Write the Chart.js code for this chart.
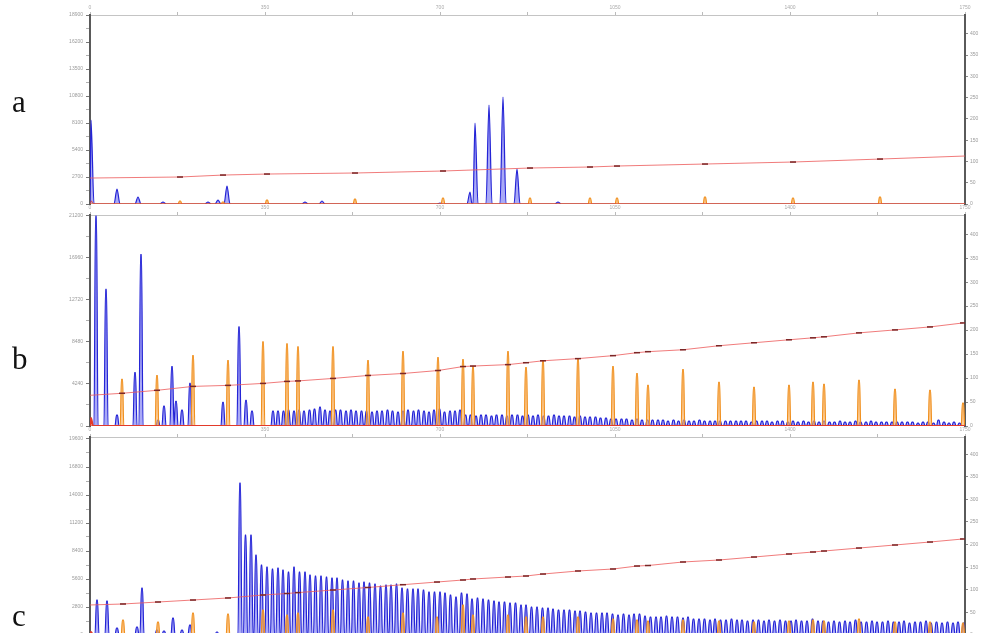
<!DOCTYPE html>
<html>
<head>
<meta charset="utf-8">
<script src="https://cdn.jsdelivr.net/npm/chart.js@4.4.0/dist/chart.umd.min.js"></script>
<style>
  html, body { margin: 0; padding: 0; background: #fff; overflow: hidden; }
  #wrap { position: relative; width: 989px; height: 633px; overflow: hidden; }
  canvas { position: absolute; left: 0; }
  .lbl { position: absolute; left: 12px; font-family: 'Liberation Serif', serif; font-size: 31px; line-height: 1; color: #111; }
</style>
</head>
<body>
<div id="wrap">
  <canvas id="panelA" width="989" height="210" style="top:0px"></canvas>
  <canvas id="panelB" width="989" height="232" style="top:200px"></canvas>
  <canvas id="panelC" width="989" height="220" style="top:422px"></canvas>
  <div class="lbl" style="top:86px">a</div>
  <div class="lbl" style="top:343px">b</div>
  <div class="lbl" style="top:600px">c</div>
</div>
<script>
// scan axis runs 0..1750, signal in RFU, size standard in bp (right axis)

// ---- panel a ----
const blueScanA = [2, 54, 96, 146, 236, 256, 274, 430, 464, 700, 760, 770, 798, 826, 854, 936];
const blueRfuA  = [8400, 1500, 700, 200, 200, 400, 1800, 200, 300, 100, 1200, 8100, 9900, 10700, 3500, 200];
const orangeScanA = [180, 266, 354, 530, 706, 880, 1000, 1054, 1230, 1406, 1580];
const orangeRfuA  = [300, 200, 400, 500, 600, 600, 600, 600, 700, 600, 700];
const redScanA = [3];
const redRfuA  = [300];
const sizeScanA = [0, 180, 266, 354, 530, 706, 880, 1000, 1054, 1230, 1406, 1580, 1750];
const sizeBpA   = [61, 63.4, 68, 70.4, 72.8, 77.5, 84.5, 86.9, 89.2, 93.9, 98.6, 105.6, 112.7];

// ---- panel b ----
const blueScanB = [12, 32, 54, 90, 102, 136, 148, 164, 172, 184, 200, 266, 298, 312, 324,
  366, 376, 387, 397, 408, 418, 428, 439, 449, 460,
  470, 480, 491, 501, 512, 522, 532, 543, 553, 564,
  574, 584, 595, 605, 616, 626, 636, 647, 657, 668,
  678, 688, 699, 709, 720, 730, 740, 751, 761, 772,
  782, 792, 803, 813, 824, 834, 844, 855, 865, 876,
  886, 896, 907, 917, 928, 938, 948, 959, 969, 980,
  990, 1000, 1011, 1021, 1032, 1042, 1052, 1063, 1073, 1084,
  1094, 1104, 1115, 1125, 1136, 1146, 1156, 1167, 1177, 1188,
  1198, 1208, 1219, 1229, 1240, 1250, 1260, 1271, 1281, 1292,
  1302, 1312, 1323, 1333, 1344, 1354, 1364, 1375, 1385, 1396,
  1406, 1416, 1427, 1437, 1448, 1458, 1468, 1479, 1489, 1500,
  1510, 1520, 1531, 1541, 1552, 1562, 1572, 1583, 1593, 1604,
  1614, 1624, 1635, 1645, 1656, 1666, 1676, 1687, 1697, 1708,
  1718, 1728, 1739];
const blueRfuB = [21200, 13800, 1100, 5400, 17300, 600, 2000, 6000, 2500, 1600, 4300, 2400, 10000, 2600, 1500,
  1500, 1500, 1500, 1600, 1500, 1600, 1500, 1600, 1700, 1900,
  1600, 1500, 1600, 1600, 1500, 1600, 1500, 1500, 1500, 1400,
  1500, 1500, 1600, 1500, 1400, 1500, 1600, 1500, 1600, 1500,
  1400, 1600, 1700, 1400, 1500, 1500, 1600, 1100, 1100, 1000,
  1100, 1100, 1000, 1100, 1100, 1000, 1100, 1100, 1000, 1100,
  1000, 1100, 1000, 1000, 1100, 1000, 1000, 1000, 900, 1000,
  900, 900, 900, 800, 800, 700, 700, 700, 700, 600,
  700, 600, 600, 600, 600, 600, 500, 600, 500, 600,
  500, 500, 600, 500, 500, 500, 500, 500, 500, 500,
  500, 500, 400, 500, 500, 500, 400, 500, 500, 400,
  500, 400, 500, 400, 500, 400, 500, 400, 400, 500,
  400, 400, 500, 400, 400, 500, 400, 400, 400, 400,
  400, 400, 400, 400, 300, 400, 400, 300, 600, 400,
  300, 400, 300];
const orangeScanB = [64, 134, 206, 276, 346, 394, 416, 486, 556, 626, 696, 746, 766, 836, 872,
  906, 976, 1046, 1094, 1116, 1186, 1258, 1328, 1398, 1446, 1468, 1538, 1610, 1680, 1746];
const orangeRfuB  = [4700, 5100, 7100, 6600, 8500, 8300, 8000, 8000, 6600, 7500, 6900, 6700, 6000, 7500, 5900,
  6600, 6800, 6000, 5300, 4100, 5700, 4400, 3900, 4100, 4400, 4200, 4600, 3700, 3600, 2300];
const redScanB = [2];
const redRfuB  = [800];
const sizeScanB = [0, 64, 134, 206, 276, 346, 394, 416, 486, 556, 626, 696, 746, 766, 836, 872,
  906, 976, 1046, 1094, 1116, 1186, 1258, 1328, 1398, 1446, 1468, 1538, 1610, 1680, 1746];
const sizeBpB   = [64, 68.2, 74.4, 82.6, 84.7, 88.8, 93, 94, 99.2, 105.4, 109.5, 115.7, 124, 125, 128, 132,
  136, 140.5, 146.7, 152.9, 155, 159, 167.4, 173.6, 179.8, 183.9, 186, 194.2, 200.4, 206.6, 214.9];

// ---- panel c ----
const blueScanC = [14, 34, 54, 94, 104, 134, 148, 166, 184, 200, 254,
  300, 311, 322, 332, 343, 354, 365, 376, 386, 397,
  408, 419, 430, 440, 451, 462, 473, 484, 494, 505,
  516, 527, 538, 548, 559, 570, 581, 592, 602, 613,
  624, 635, 646, 656, 667, 678, 689, 700, 710, 721,
  732, 743, 754, 764, 775, 786, 797, 808, 818, 829,
  840, 851, 862, 872, 883, 894, 905, 916, 926, 937,
  948, 959, 970, 980, 991, 1002, 1013, 1024, 1034, 1045,
  1056, 1067, 1078, 1088, 1099, 1110, 1121, 1132, 1142, 1153,
  1164, 1175, 1186, 1196, 1207, 1218, 1229, 1240, 1250, 1261,
  1272, 1283, 1294, 1304, 1315, 1326, 1337, 1348, 1358, 1369,
  1380, 1391, 1402, 1412, 1423, 1434, 1445, 1456, 1466, 1477,
  1488, 1499, 1510, 1520, 1531, 1542, 1553, 1564, 1574, 1585,
  1596, 1607, 1618, 1628, 1639, 1650, 1661, 1672, 1682, 1693,
  1704, 1715, 1726, 1736, 1747];
const blueRfuC = [3500, 3400, 700, 800, 4700, 500, 400, 1700, 500, 1000, 300,
  15200, 10000, 10000, 8000, 7000, 6800, 6600, 6700, 6500, 6300,
  6800, 6300, 6300, 6000, 5900, 5900, 5800, 5700, 5700, 5500,
  5400, 5400, 5200, 5300, 5200, 5100, 4900, 5000, 5000, 5100,
  4700, 4600, 4600, 4600, 4500, 4300, 4300, 4300, 4200, 4000,
  3800, 4200, 4100, 3600, 3700, 3600, 3500, 3400, 3300, 3300,
  3200, 3200, 3000, 3000, 2800, 2800, 2700, 2700, 2600, 2500,
  2500, 2500, 2400, 2400, 2300, 2200, 2200, 2200, 2200, 2100,
  2000, 2100, 2000, 2100, 2100, 1900, 1800, 1800, 1800, 1900,
  1800, 1800, 1700, 1800, 1600, 1600, 1600, 1500, 1600, 1500,
  1500, 1600, 1500, 1500, 1400, 1500, 1500, 1400, 1500, 1400,
  1500, 1400, 1400, 1500, 1400, 1400, 1600, 1400, 1400, 1300,
  1400, 1300, 1400, 1300, 1500, 1300, 1300, 1400, 1300, 1300,
  1400, 1300, 1300, 1400, 1200, 1300, 1300, 1400, 1200, 1300,
  1200, 1300, 1200, 1300, 1200];
const orangeScanC = [66, 136, 206, 276, 346, 394, 416, 486, 556, 626, 694, 746, 766, 836, 872,
  906, 976, 1046, 1094, 1116, 1186, 1258, 1328, 1398, 1446, 1468, 1538, 1610, 1680, 1746];
const orangeRfuC  = [1500, 1300, 2200, 2100, 2500, 2000, 2200, 2500, 1800, 2200, 1800, 3000, 2000, 2000, 1800,
  1800, 1800, 1600, 1500, 1400, 1500, 1400, 1300, 1400, 1500, 1400, 1600, 1300, 1300, 1200];
const redScanC = [2];
const redRfuC  = [300];
const sizeScanC = [0, 66, 136, 206, 276, 346, 394, 416, 486, 556, 626, 694, 746, 766, 836, 872,
  906, 976, 1046, 1094, 1116, 1186, 1258, 1328, 1398, 1446, 1468, 1538, 1610, 1680, 1746];
const sizeBpC   = [66.4, 68.6, 73, 77.4, 81.9, 88.5, 91.8, 93.8, 99.5, 105.1, 111.3, 117.2, 121.7, 123.9, 128.3, 130.5,
  134.9, 141.6, 146, 152.6, 153.7, 161.5, 165.9, 172.5, 179.2, 183.6, 185.8, 192.4, 199.1, 205.7, 212.4];

// turn a peak table into a trace: baseline, apex (optionally a short flat top), baseline
function peakTrace(scans, heights, halfWidth, topHalf) {
    const pts = [{x: 0, y: 0}, {x: 1750, y: 0}];
    scans.forEach((s, i) => {
        pts.push({x: s - halfWidth, y: 0}, {x: s + halfWidth, y: 0});
        if (topHalf > 0) {
            pts.push({x: s - topHalf, y: heights[i]}, {x: s + topHalf, y: heights[i]});
        } else {
            pts.push({x: s, y: heights[i]});
        }
    });
    return pts.sort((p, q) => p.x - q.x);
}

function isStep(v, step) {
    return Math.abs(v / step - Math.round(v / step)) < 1e-6;
}

// fixed tick list so that chart.js does not re-space the ticks
function tickList(max, step) {
    const ticks = [];
    for (let v = 0; v <= max + 1e-9; v += step) {
        ticks.push({value: v});
    }
    return ticks;
}

function drawPanel(id, p) {
    const ctx = document.getElementById(id).getContext('2d');
    const sizePts = p.sizeScan.map((s, i) => ({x: s, y: p.sizeBp[i]}));

    return new Chart(ctx, {
        type: 'line',
        data: {
            datasets: [
                {
                    label: 'Size standard (bp)',
                    data: sizePts,
                    yAxisID: 'y2',
                    borderColor: 'rgba(236, 90, 90, 0.8)',
                    borderWidth: 1,
                    pointStyle: 'line',
                    pointRadius: c => p.orangeScan.includes(p.sizeScan[c.dataIndex]) ? 3 : 0,
                    pointBorderColor: '#7a2626',
                    pointBorderWidth: 1.5,
                    fill: false
                },
                {
                    label: 'Red dye',
                    data: peakTrace(p.redScan, p.redRfu, 4, 0),
                    borderColor: '#e23a2a',
                    borderWidth: p.redWidth,
                    pointRadius: 0,
                    cubicInterpolationMode: 'monotone',
                    fill: false
                },
                {
                    label: 'Size ladder',
                    data: peakTrace(p.orangeScan, p.orangeRfu, 3.5, 1.2),
                    borderColor: '#f0901f',
                    backgroundColor: 'rgba(250, 175, 90, 0.65)',
                    borderWidth: 1.2,
                    pointRadius: 0,
                    cubicInterpolationMode: 'monotone',
                    fill: 'origin'
                },
                {
                    label: 'Sample',
                    data: peakTrace(p.blueScan, p.blueRfu, p.halfWidth, p.topHalf),
                    borderColor: '#2424d6',
                    backgroundColor: 'rgba(100, 100, 238, 0.55)',
                    borderWidth: 1.2,
                    pointRadius: 0,
                    cubicInterpolationMode: 'monotone',
                    fill: 'origin'
                }
            ]
        },
        options: {
            responsive: false,
            animation: false,
            events: [],
            layout: { padding: { top: 0, right: 0, left: 0, bottom: p.padBottom } },
            plugins: { legend: { display: false }, tooltip: { enabled: false } },
            scales: {
                x: {
                    type: 'linear',
                    position: 'top',
                    min: 0,
                    max: 1750,
                    afterFit: s => { s.height = 15; },
                    afterBuildTicks: s => { s.ticks = tickList(1750, 175); },
                    border: { color: '#c4c4c4', width: 1 },
                    grid: { drawOnChartArea: false, tickLength: 3, color: '#bbbbbb' },
                    ticks: {
                        autoSkip: false,
                        maxRotation: 0,
                        padding: 1,
                        color: '#aaaaaa',
                        font: { size: 5, family: 'Liberation Sans' },
                        callback: v => isStep(v, 350) ? String(v) : ''
                    }
                },
                y: {
                    position: 'left',
                    min: 0,
                    max: p.yMax,
                    afterFit: s => { s.width = 90; },
                    afterBuildTicks: s => { s.ticks = tickList(p.yMax, p.yStep / 2); },
                    border: { color: '#5a5a5a', width: 2 },
                    grid: {
                        drawOnChartArea: false,
                        tickLength: 4,
                        color: c => isStep(c.tick.value, p.yStep) ? '#777777' : '#b0b0b0'
                    },
                    ticks: {
                        autoSkip: false,
                        padding: 3,
                        color: '#9a9a9a',
                        font: { size: 5, family: 'Liberation Sans' },
                        callback: v => isStep(v, p.yStep) ? String(v) : ''
                    }
                },
                y2: {
                    position: 'right',
                    min: 0,
                    max: p.bpMax,
                    afterFit: s => { s.width = 24; },
                    afterBuildTicks: s => { s.ticks = tickList(p.bpMax, 50); },
                    border: { color: '#5a5a5a', width: 2 },
                    grid: { drawOnChartArea: false, tickLength: 3, color: '#888888' },
                    ticks: {
                        autoSkip: false,
                        padding: 2,
                        color: '#9a9a9a',
                        font: { size: 5, family: 'Liberation Sans' }
                    }
                }
            }
        }
    });
}

drawPanel('panelA', {
    blueScan: blueScanA, blueRfu: blueRfuA, orangeScan: orangeScanA, orangeRfu: orangeRfuA,
    redScan: redScanA, redRfu: redRfuA, sizeScan: sizeScanA, sizeBp: sizeBpA,
    yMax: 18900, yStep: 2700, bpMax: 444, halfWidth: 6, topHalf: 0, redWidth: 1, padBottom: 6
});

drawPanel('panelB', {
    blueScan: blueScanB, blueRfu: blueRfuB, orangeScan: orangeScanB, orangeRfu: orangeRfuB,
    redScan: redScanB, redRfu: redRfuB, sizeScan: sizeScanB, sizeBp: sizeBpB,
    yMax: 21300, yStep: 4240, bpMax: 440, halfWidth: 4, topHalf: 1, redWidth: 2, padBottom: 4
});

drawPanel('panelC', {
    blueScan: blueScanC, blueRfu: blueRfuC, orangeScan: orangeScanC, orangeRfu: orangeRfuC,
    redScan: redScanC, redRfu: redRfuC, sizeScan: sizeScanC, sizeBp: sizeBpC,
    yMax: 19800, yStep: 2800, bpMax: 438, halfWidth: 4, topHalf: 1, redWidth: 2, padBottom: 7
});
</script>
</body>
</html>
